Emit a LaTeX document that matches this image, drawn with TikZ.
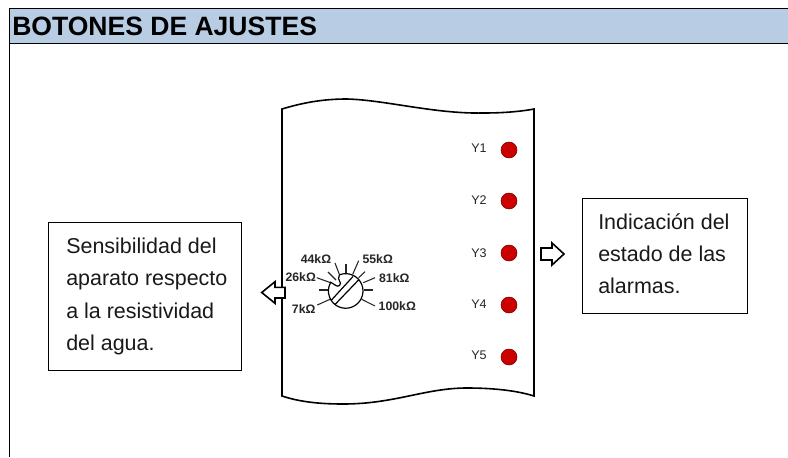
\documentclass[tikz,border=0pt]{standalone}
\usepackage{fontspec}
\setmainfont{Liberation Sans}
\begin{document}
\begin{tikzpicture}[x=0.75pt,y=-0.75pt,
  frameline/.style={draw=black,line width=0.75pt},
  infobox/.style={draw=black,line width=0.75pt,fill=white},
  infotext/.style={anchor=base west,font=\fontsize{16.1}{16.1}\selectfont,inner sep=0pt,text=black!90},
  dialtext/.style={font=\bfseries\fontsize{9.2}{9.2}\selectfont,inner sep=0pt,text=black!85},
  ledtext/.style={font=\fontsize{9.4}{9.4}\selectfont,inner sep=0pt,text=black!85},
  led/.style={circle,draw=red!45!black,line width=0.4pt,fill=red!80!black,minimum size=12pt,inner sep=0pt},
  dialtick/.style={draw=black!85,line width=0.8pt},
  arrowshape/.style={draw=black,line width=1.2pt,fill=white,line join=miter}]
\useasboundingbox (0,0) rectangle (788,457);
% header
\path[fill=white] (0,0) rectangle (788,457);
\path[fill={rgb,255:red,184;green,204;blue,228}] (9,8) rectangle (788,43);
\draw[frameline] (788,8) -- (9,8) -- (9,457);
\draw[frameline] (9,43) -- (788,43);
\node[anchor=base west,inner sep=0pt,font=\bfseries\fontsize{19.9}{19.9}\selectfont] (title) at (12,35) {BOTONES DE AJUSTES};
% panel
\draw[draw=black,line width=1.2pt,line join=miter]
 (282,109) .. controls (305,102) and (325,99) .. (347,99)
 .. controls (385,100) and (435,114) .. (483,113)
 .. controls (500,113) and (518,112) .. (534,109)
 -- (534,396)
 .. controls (515,390) and (490,388) .. (467,388)
 .. controls (425,388) and (395,404) .. (343,404)
 .. controls (320,404) and (300,402) .. (282,396) -- cycle;
% LEDs
\foreach \n/\y/\ty in {1/150/148,2/201/200,3/253/253,4/305/304,5/357/355}{
  \node[led] (led\n) at (509,\y) {};
  \node[ledtext] (lab\n) at (479,\ty) {Y\n};
}
% dial
\coordinate (c) at (345.7,291);
\draw[dialtick] (316.7,277.7) -- (332.3,283.3);
\draw[dialtick] (328,272) -- (336,280);
\draw[dialtick] (335,263) -- (339.3,274.3);
\draw[dialtick] (346,264) -- (346,273);
\draw[dialtick] (358.7,260.7) -- (352.7,274.3);
\draw[dialtick] (365,271.7) -- (358.7,277.7);
\draw[dialtick] (375,277.7) -- (363.3,282.7);
\draw[dialtick] (373.3,290) -- (364,290);
\draw[dialtick] (375,306) -- (361.7,299.3);
\draw[dialtick] (319.3,290) -- (328,290);
\draw[dialtick] (317.3,305) -- (330,299.3);
\draw[line width=0.9pt,fill=white] (339.5,274.8) arc[start angle=-111,end angle=210,radius=17.3]
  .. controls (335,284.5) and (337,287.5) .. (339.5,285.5)
  .. controls (343,282.5) and (336,280) .. cycle;
\draw[line width=0.9pt] (331.5,300) -- (353,276.5);
\draw[line width=0.9pt] (335,304.5) -- (359,279.5);
\node[dialtext] (k44) at (316,259.3) {44kΩ};
\node[dialtext] (k55) at (377.7,259) {55kΩ};
\node[dialtext] (k26) at (300.7,276.7) {26kΩ};
\node[dialtext] (k81) at (394.3,277.7) {81kΩ};
\node[dialtext] (k7) at (303.7,308.7) {7kΩ};
\node[dialtext] (k100) at (397.3,306.3) {100kΩ};
% arrows
\draw[arrowshape] (261.7,292.5) -- (275,281.7) -- (275,287.3) -- (285,287.3) -- (285,298) -- (275,298) -- (275,303.3) -- cycle;
\draw[arrowshape] (564,254) -- (552,243) -- (552,248) -- (541,248) -- (541,260) -- (552,260) -- (552,265) -- cycle;
% boxes
\draw[infobox] (48,222) rectangle (241,370);
\node[infotext] (a1) at (66,253) {Sensibilidad del};
\node[infotext] (a2) at (66,285.5) {aparato respecto};
\node[infotext] (a3) at (66,318) {a la resistividad};
\node[infotext] (a4) at (66,350) {del agua.};
\draw[infobox] (582,198) rectangle (747,313);
\node[infotext] (b1) at (598,229) {Indicación del};
\node[infotext] (b2) at (598,261.5) {estado de las};
\node[infotext] (b3) at (598,293) {alarmas.};
\end{tikzpicture}
\end{document}
